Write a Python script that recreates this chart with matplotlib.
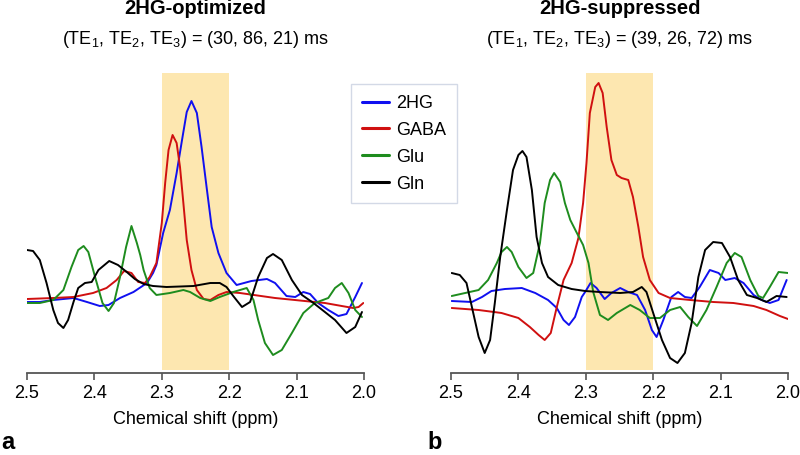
import matplotlib
matplotlib.use("Agg")
import matplotlib.pyplot as plt

plt.rcParams['font.family'] = ['Liberation Sans', 'DejaVu Sans']
plt.rcParams['mathtext.default'] = 'regular'

# ---------------- data (ppm, arbitrary intensity) ----------------
# Panel a: 2HG-optimized
a_2hg_x = [2.500, 2.481, 2.461, 2.431, 2.411, 2.392, 2.379, 2.362, 2.342, 2.322, 2.313, 2.308, 2.298, 2.288,
           2.278, 2.270, 2.263, 2.256, 2.248, 2.241, 2.233, 2.226, 2.216, 2.204, 2.189, 2.167, 2.144, 2.132,
           2.115, 2.102, 2.090, 2.080, 2.068, 2.053, 2.038, 2.026, 2.013, 2.003]
a_2hg_y = [71, 71, 73, 75, 71, 67, 68, 75, 81, 90, 100, 108, 140, 163,
           200, 233, 261, 272, 260, 226, 183, 146, 120, 100, 88, 92, 94, 90,
           77, 76, 81, 79, 70, 63, 57, 59, 76, 90]

a_gaba_x = [2.500, 2.461, 2.431, 2.402, 2.382, 2.367, 2.356, 2.345, 2.335, 2.325, 2.318, 2.308, 2.300, 2.295,
            2.290, 2.284, 2.278, 2.273, 2.268, 2.263, 2.256, 2.248, 2.238, 2.228, 2.216, 2.204, 2.184, 2.132,
            2.088, 2.058, 2.033, 2.016, 2.008, 2.001]
a_gaba_y = [74, 75, 76, 80, 85, 93, 102, 100, 91, 90, 96, 110, 150, 190,
            223, 238, 230, 206, 170, 133, 103, 83, 74, 73, 78, 81, 80, 75,
            72, 70, 67, 65, 66, 70]

a_glu_x = [2.500, 2.481, 2.461, 2.446, 2.434, 2.424, 2.416, 2.409, 2.399, 2.388, 2.379, 2.371, 2.362, 2.353,
           2.345, 2.337, 2.332, 2.327, 2.322, 2.318, 2.308, 2.288, 2.268, 2.258, 2.243, 2.228, 2.214, 2.194,
           2.174, 2.164, 2.157, 2.147, 2.135, 2.122, 2.107, 2.090, 2.073, 2.053, 2.043, 2.033, 2.023, 2.013,
           2.003]
a_glu_y = [70, 70, 73, 83, 106, 123, 127, 121, 96, 70, 62, 70, 96, 126,
           147, 130, 118, 103, 93, 85, 78, 80, 83, 81, 75, 72, 76, 81,
           85, 73, 53, 30, 18, 23, 40, 60, 70, 75, 85, 90, 80, 63,
           56]

a_gln_x = [2.500, 2.491, 2.481, 2.471, 2.461, 2.454, 2.446, 2.439, 2.431, 2.424, 2.414, 2.404, 2.394, 2.378,
           2.365, 2.352, 2.340, 2.327, 2.313, 2.293, 2.253, 2.228, 2.214, 2.204, 2.194, 2.181, 2.169, 2.157,
           2.144, 2.135, 2.122, 2.107, 2.092, 2.075, 2.058, 2.043, 2.026, 2.013, 2.003]
a_gln_y = [123, 122, 113, 90, 63, 50, 45, 53, 71, 85, 90, 91, 103, 112,
           108, 101, 94, 89, 87, 86, 87, 90, 90, 86, 77, 66, 71, 96,
           115, 119, 113, 93, 78, 70, 61, 53, 40, 46, 61]

# Panel b: 2HG-suppressed
b_2hg_x = [2.499, 2.469, 2.454, 2.440, 2.420, 2.395, 2.375, 2.356, 2.343, 2.333, 2.325, 2.316, 2.306, 2.301,
           2.293, 2.284, 2.272, 2.262, 2.249, 2.237, 2.224, 2.212, 2.202, 2.195, 2.185, 2.173, 2.163, 2.153,
           2.143, 2.131, 2.116, 2.103, 2.093, 2.079, 2.066, 2.051, 2.039, 2.027, 2.014, 2.002]
b_2hg_y = [72, 71, 76, 82, 84, 85, 80, 73, 65, 53, 48, 56, 76, 81,
           90, 85, 74, 80, 85, 81, 78, 63, 43, 36, 53, 76, 81, 76,
           75, 86, 103, 100, 93, 95, 90, 78, 73, 70, 73, 93]

b_gaba_x = [2.499, 2.459, 2.425, 2.400, 2.383, 2.370, 2.361, 2.352, 2.343, 2.333, 2.321, 2.311, 2.304, 2.299,
            2.294, 2.286, 2.281, 2.275, 2.269, 2.262, 2.254, 2.247, 2.237, 2.230, 2.222, 2.215, 2.205, 2.192,
            2.175, 2.145, 2.111, 2.081, 2.051, 2.032, 2.012, 2.000]
b_gaba_y = [65, 63, 60, 55, 46, 38, 33, 40, 66, 93, 110, 135, 170, 210,
            260, 286, 290, 280, 246, 213, 198, 195, 193, 176, 146, 116, 93, 80,
            75, 73, 71, 70, 67, 63, 57, 54]

b_glu_x = [2.499, 2.479, 2.459, 2.445, 2.432, 2.425, 2.417, 2.410, 2.400, 2.388, 2.378, 2.368, 2.361, 2.353,
           2.347, 2.338, 2.331, 2.323, 2.314, 2.304, 2.296, 2.289, 2.279, 2.267, 2.254, 2.234, 2.220, 2.205,
           2.190, 2.175, 2.160, 2.148, 2.135, 2.121, 2.106, 2.091, 2.079, 2.069, 2.056, 2.044, 2.037, 2.027,
           2.014, 2.000]
b_glu_y = [77, 80, 83, 93, 110, 121, 126, 121, 106, 95, 100, 130, 170, 193,
           200, 191, 170, 153, 141, 128, 110, 81, 58, 53, 60, 68, 63, 55,
           55, 63, 66, 56, 47, 63, 86, 110, 120, 116, 93, 77, 75, 86,
           101, 100]

b_gln_x = [2.499, 2.487, 2.477, 2.467, 2.459, 2.450, 2.442, 2.435, 2.427, 2.417, 2.408, 2.400, 2.394, 2.388,
           2.380, 2.373, 2.365, 2.356, 2.341, 2.321, 2.301, 2.279, 2.249, 2.230, 2.217, 2.210, 2.200, 2.187,
           2.175, 2.164, 2.153, 2.143, 2.133, 2.123, 2.111, 2.098, 2.086, 2.074, 2.061, 2.046, 2.032, 2.017,
           2.002]
b_gln_y = [100, 98, 90, 60, 36, 20, 33, 70, 116, 163, 203, 218, 222, 216,
           183, 136, 110, 96, 88, 84, 82, 81, 80, 81, 86, 81, 60, 33,
           15, 10, 20, 50, 96, 123, 131, 130, 116, 93, 78, 75, 71, 77,
           76]

metabolites = ['2HG', 'GABA', 'Glu', 'Gln']
colors = ['#1010F0', '#D01010', '#1E8C1E', '#000000']
titles = ['2HG-optimized', '2HG-suppressed']
subtitles = ['(TE$_1$, TE$_2$, TE$_3$) = (30, 86, 21) ms',
             '(TE$_1$, TE$_2$, TE$_3$) = (39, 26, 72) ms']
panel_letters = ['a', 'b']
xticks = [2.5, 2.4, 2.3, 2.2, 2.1, 2.0]
highlight = (2.3, 2.2)

panels = [
    [(a_2hg_x, a_2hg_y), (a_gaba_x, a_gaba_y), (a_glu_x, a_glu_y), (a_gln_x, a_gln_y)],
    [(b_2hg_x, b_2hg_y), (b_gaba_x, b_gaba_y), (b_glu_x, b_glu_y), (b_gln_x, b_gln_y)],
]

W, H = 800, 455
fig = plt.figure(figsize=(W / 100, H / 100), dpi=100)

lefts = [27, 451]
ax_w = 337
ax_top, ax_bot = 73, 373
letter_x = [1, 427]

lines_for_legend = []
for i, (left, series) in enumerate(zip(lefts, panels)):
    ax = fig.add_axes([left / W, 1 - ax_bot / H, ax_w / W, (ax_bot - ax_top) / H])
    ax.axvspan(highlight[0], highlight[1], ymin=0.01, ymax=1, color='#FDE7B0', lw=0, zorder=0)
    hs = []
    for (x, y), c, name in zip(series, colors, metabolites):
        h, = ax.plot(x, y, color=c, lw=1.4, label=name, solid_joinstyle='round',
                     solid_capstyle='round', antialiased=True)
        hs.append(h)
    if i == 0:
        lines_for_legend = hs
    ax.set_xlim(2.5, 2.0)
    ax.set_ylim(0, 300)
    for s in ['top', 'right', 'left']:
        ax.spines[s].set_visible(False)
    ax.spines['bottom'].set_color('#555555')
    ax.spines['bottom'].set_linewidth(1.3)
    ax.set_yticks([])
    ax.set_xticks(xticks)
    ax.set_xticklabels([f'{t:.1f}' for t in xticks])
    ax.tick_params(axis='x', direction='out', length=5, width=1.2, color='#555555',
                   labelsize=13, pad=4)
    ax.set_xlabel('Chemical shift (ppm)', fontsize=13, labelpad=6)
    ax.patch.set_alpha(0)

    cx = (left + ax_w / 2) / W
    fig.text(cx, 1 - 9 / H, titles[i], ha='center', va='center', fontsize=14.5, fontweight='bold')
    fig.text(cx, 1 - 39 / H, subtitles[i], ha='center', va='center', fontsize=13)
    fig.text(letter_x[i] / W, 1 - 449 / H, panel_letters[i], fontsize=17, fontweight='bold',
             ha='left', va='baseline')

leg = fig.legend(lines_for_legend, metabolites, loc='upper left',
                 bbox_to_anchor=(351 / W, 1 - 84 / H), fontsize=13, frameon=True,
                 fancybox=False, edgecolor='#C8D0E0', handlelength=1.5, handletextpad=0.4,
                 labelspacing=0.55, borderpad=0.6, borderaxespad=0)
leg.get_frame().set_linewidth(1.0)
for l in leg.get_lines():
    l.set_linewidth(2.2)

fig.savefig('out.png', dpi=100)
